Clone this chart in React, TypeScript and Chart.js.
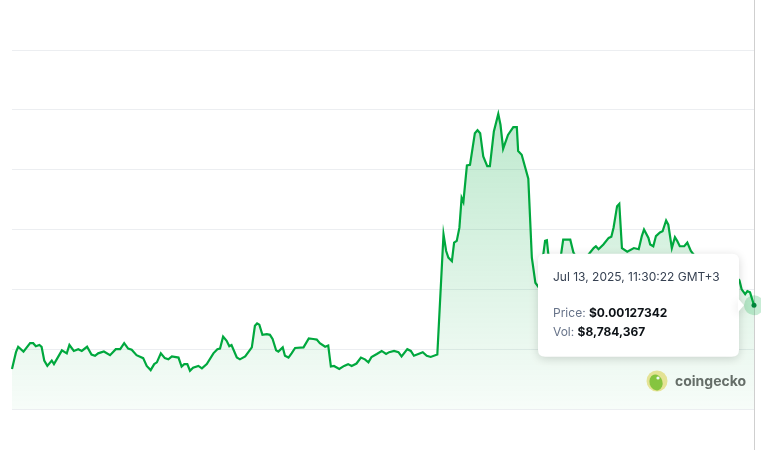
import React, { useEffect, useRef } from "react";
import { Chart, registerables } from "chart.js";

Chart.register(...registerables);

// Hours since start of the 7-day window
const hours = [0,0.9,1.4,2.6,4.1,4.8,5.4,6.2,6.7,7.3,8.0,9.0,9.5,11.3,12.4,13.0,14.0,15.0,15.8,17.0,18.0,18.8,19.5,20.8,22.2,23.5,24.5,25.4,26.3,27.1,28.2,29.7,30.5,31.4,32.2,32.8,33.7,34.6,35.4,36.2,37.7,38.4,39.0,39.7,40.3,41.0,42.2,43.0,44.1,45.6,46.5,47.1,47.8,48.6,49.2,49.7,50.9,51.6,52.8,54.3,55.0,55.5,56.0,56.7,57.7,58.4,59.0,59.8,60.3,61.3,61.8,62.6,63.3,64.1,66.0,67.2,68.2,69.0,69.7,70.9,71.6,72.2,72.9,74.1,75.2,76.1,76.9,78.0,79.0,79.9,80.7,81.4,82.6,83.7,84.7,85.4,86.5,87.5,88.2,89.5,90.3,91.0,92.0,93.0,93.9,94.8,96.3,97.7,98.3,98.8,99.6,100.1,100.7,101.3,101.8,102.2,103.0,103.7,104.8,105.4,106.0,106.7,107.6,108.2,109.1,110.1,110.6,111.2,112.3,113.5,114.3,114.6,115.4,116.9,117.7,118.5,119.3,120.7,121.1,121.4,122.3,123.2,124.1,124.8,125.6,126.4,127.1,128.2,129.5,130.5,131.7,132.2,132.8,133.9,135.1,135.7,136.2,137.0,137.5,138.1,139.3,140.8,141.9,142.6,143.1,144.1,144.5,145.2,145.8,146.7,147.3,148.1,148.6,149.4,150.1,150.6,151.2,152.2,152.9,153.7,154.9,156.2,158.0,159.9,161.7,163.4,164.7,165.2,166.0,166.5,167.1,168];

// Price in USD
const prices = [0.001167,0.001195,0.001204,0.001196,0.001210,0.001210,0.001205,0.001207,0.001204,0.001181,
0.001172,0.001181,0.001175,0.001198,0.001193,0.001207,0.001197,0.001200,0.001197,0.001204,
0.001191,0.001189,0.001193,0.001196,0.001190,0.001200,0.001200,0.001210,0.001201,0.001199,
0.001190,0.001185,0.001172,0.001165,0.001175,0.001178,0.001193,0.001185,0.001183,0.001188,
0.001186,0.001171,0.001175,0.001175,0.001164,0.001169,0.001172,0.001168,0.001175,0.001193,
0.001200,0.001201,0.001221,0.001214,0.001205,0.001207,0.001186,0.001183,0.001188,0.001203,
0.001239,0.001243,0.001241,0.001224,0.001225,0.001224,0.001217,0.001198,0.001196,0.001203,
0.001189,0.001186,0.001193,0.001202,0.001203,0.001218,0.001217,0.001216,0.001210,0.001204,
0.001206,0.001171,0.001172,0.001167,0.001172,0.001175,0.001172,0.001176,0.001186,0.001183,
0.001178,0.001187,0.001192,0.001197,0.001192,0.001195,0.001197,0.001195,0.001188,0.001200,
0.001197,0.001189,0.001192,0.001195,0.001189,0.001187,0.001191,0.001392,0.001364,0.001353,
0.001347,0.001378,0.001381,0.001403,0.001453,0.001446,0.001507,0.001508,0.001561,0.001566,
0.001561,0.001522,0.001506,0.001506,0.001564,0.001593,0.001575,0.001535,0.001558,0.001571,
0.001571,0.001531,0.001525,0.001485,0.001353,0.001311,0.001303,0.001381,0.001382,0.001361,
0.001325,0.001333,0.001347,0.001383,0.001383,0.001383,0.001362,0.001347,0.001353,0.001358,
0.001369,0.001372,0.001367,0.001375,0.001386,0.001388,0.001403,0.001439,0.001443,0.001369,
0.001363,0.001369,0.001367,0.001389,0.001400,0.001386,0.001375,0.001372,0.001389,0.001395,
0.001397,0.001415,0.001408,0.001369,0.001387,0.001381,0.001372,0.001372,0.001378,0.001364,
0.001353,0.001347,0.001342,0.001337,0.001330,0.001325,0.001315,0.001300,0.001292,0.001297,
0.001295,0.00127342];

const yMin = 0.0011;
const yMax = 0.0017;
const yStep = 0.0001;

const tooltipTitle = "Jul 13, 2025, 11:30:22 GMT+3";
const lastPriceText = "$0.00127342";
const lastVolume = 8784367;

const GREEN = "rgb(0,168,62)";

function roundRect(ctx: CanvasRenderingContext2D, x: number, y: number, w: number, h: number, r: number) {
  ctx.beginPath();
  ctx.moveTo(x + r, y);
  ctx.lineTo(x + w - r, y);
  ctx.quadraticCurveTo(x + w, y, x + w, y + r);
  ctx.lineTo(x + w, y + h - r);
  ctx.quadraticCurveTo(x + w, y + h, x + w - r, y + h);
  ctx.lineTo(x + r, y + h);
  ctx.quadraticCurveTo(x, y + h, x, y + h - r);
  ctx.lineTo(x, y + r);
  ctx.quadraticCurveTo(x, y, x + r, y);
  ctx.closePath();
}

const overlayPlugin = {
  id: "overlay",
  beforeDatasetsDraw(chart: any) {
    const { ctx, chartArea } = chart;
    const meta = chart.getDatasetMeta(0);
    const pt = meta.data[meta.data.length - 1];
    if (!pt) return;
    // watermark
    ctx.save();
    const lx = chartArea.right - 97;
    const ly = chartArea.bottom - 28;
    ctx.beginPath();
    ctx.arc(lx, ly, 10.5, 0, Math.PI * 2);
    ctx.fillStyle = "#f1e69a";
    ctx.fill();
    ctx.beginPath();
    ctx.ellipse(lx - 1, ly + 1.5, 6.5, 8, -0.3, 0, Math.PI * 2);
    ctx.fillStyle = "#8cc63f";
    ctx.fill();
    ctx.beginPath();
    ctx.arc(lx + 1, ly - 3, 1.6, 0, Math.PI * 2);
    ctx.fillStyle = "#ffffff";
    ctx.fill();
    ctx.font = "bold 14px Inter, 'Noto Sans', sans-serif";
    ctx.fillStyle = "#6b6b6b";
    ctx.textBaseline = "middle";
    ctx.textAlign = "left";
    ctx.fillText("coingecko", lx + 18, ly + 1);
    // crosshair
    ctx.beginPath();
    ctx.strokeStyle = "#cfcfcf";
    ctx.lineWidth = 1;
    const cx = Math.round(pt.x) + 0.5;
    ctx.moveTo(cx, 0);
    ctx.lineTo(cx, chart.height);
    ctx.stroke();
    ctx.restore();
  },
  afterDraw(chart: any) {
    const { ctx } = chart;
    const meta = chart.getDatasetMeta(0);
    const pt = meta.data[meta.data.length - 1];
    if (!pt) return;
    const px = pt.x;
    const py = pt.y;
    ctx.save();
    // halo + dot
    ctx.beginPath();
    ctx.arc(px, py, 10, 0, Math.PI * 2);
    ctx.fillStyle = "rgba(0,168,62,0.22)";
    ctx.fill();
    ctx.beginPath();
    ctx.arc(px, py, 2.5, 0, Math.PI * 2);
    ctx.fillStyle = "#00843a";
    ctx.fill();

    // tooltip box
    const w = 201;
    const h = 103;
    const right = px - 15;
    const left = right - w;
    const top = py - h / 2;
    ctx.shadowColor = "rgba(0,0,0,0.16)";
    ctx.shadowBlur = 10;
    ctx.shadowOffsetY = 2;
    roundRect(ctx, left, top, w, h, 7);
    ctx.fillStyle = "#ffffff";
    ctx.fill();
    ctx.beginPath();
    ctx.moveTo(right - 1, py - 7);
    ctx.lineTo(right + 5, py);
    ctx.lineTo(right - 1, py + 7);
    ctx.closePath();
    ctx.fill();
    ctx.shadowColor = "transparent";
    ctx.shadowBlur = 0;
    ctx.shadowOffsetY = 0;

    ctx.textBaseline = "middle";
    ctx.textAlign = "left";
    const tx = left + 15;
    ctx.font = "12px Inter, 'Noto Sans', sans-serif";
    ctx.fillStyle = "#364152";
    ctx.fillText(tooltipTitle, tx, top + 24);

    ctx.font = "12px Inter, 'Noto Sans', sans-serif";
    ctx.fillStyle = "#677389";
    const pl = "Price: ";
    ctx.fillText(pl, tx, top + 60);
    let off = ctx.measureText(pl).width;
    ctx.font = "bold 12px Inter, 'Noto Sans', sans-serif";
    ctx.fillStyle = "#0d1217";
    ctx.fillText(lastPriceText, tx + off, top + 60);

    ctx.font = "12px Inter, 'Noto Sans', sans-serif";
    ctx.fillStyle = "#677389";
    const vl = "Vol: ";
    ctx.fillText(vl, tx, top + 79);
    off = ctx.measureText(vl).width;
    ctx.font = "bold 12px Inter, 'Noto Sans', sans-serif";
    ctx.fillStyle = "#0d1217";
    ctx.fillText("$" + lastVolume.toLocaleString("en-US"), tx + off, top + 79);
    ctx.restore();
  },
};

export default function App() {
  const ref = useRef<HTMLCanvasElement>(null);
  useEffect(() => {
    if (!ref.current) return;
    const points = hours.map((h, i) => ({ x: h, y: prices[i] }));
    const chart = new Chart(ref.current, {
      type: "line",
      data: {
        datasets: [
          {
            data: points,
            borderColor: GREEN,
            borderWidth: 2.2,
            pointRadius: 0,
            tension: 0,
            fill: "start",
            clip: false as any,
            backgroundColor: (c: any) => {
              const area = c.chart.chartArea;
              if (!area) return "rgba(0,168,62,0.1)";
              const g = c.chart.ctx.createLinearGradient(0, area.top, 0, area.bottom);
              g.addColorStop(0, "rgba(0,168,62,0.30)");
              g.addColorStop(1, "rgba(0,168,62,0.03)");
              return g;
            },
          },
        ],
      },
      options: {
        responsive: false,
        animation: false,
        events: [],
        layout: { padding: { left: 12, right: 7, top: 50, bottom: 41 } },
        plugins: { legend: { display: false }, tooltip: { enabled: false } },
        scales: {
          x: { type: "linear", min: 0, max: 168, display: false },
          y: {
            min: yMin,
            max: yMax,
            ticks: { display: false, stepSize: yStep },
            border: { display: false },
            grid: { color: "#eceef1", drawTicks: false, lineWidth: 1 },
          },
        },
      },
      plugins: [overlayPlugin],
    });
    return () => chart.destroy();
  }, []);
  return (
    <div style={{ position: "absolute", left: 0, top: 0, width: 761, height: 450, background: "#fff" }}>
      <canvas ref={ref} width={761} height={450} style={{ display: "block" }} />
    </div>
  );
}
